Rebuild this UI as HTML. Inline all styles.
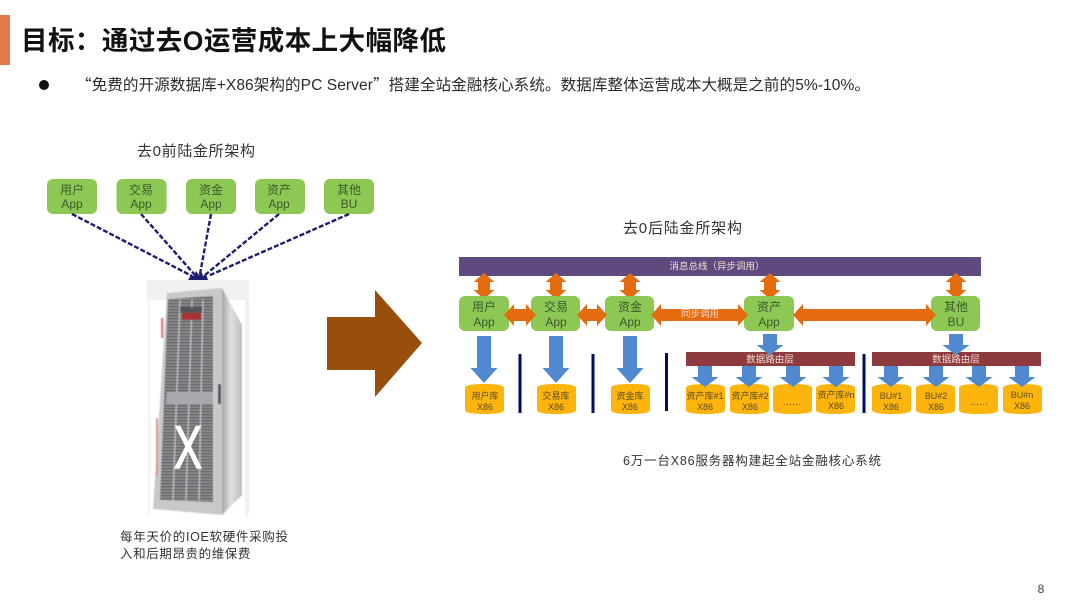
<!DOCTYPE html>
<html lang="zh"><head><meta charset="utf-8"><style>
html,body{margin:0;padding:0;background:#fff}
svg{display:block}
text{font-family:"Liberation Sans","Noto Sans CJK SC",sans-serif}
.c{text-anchor:middle}
.g{font-size:12px;fill:#3d5a2c;text-anchor:middle}
.y{font-size:9px;fill:#5a4a20;text-anchor:middle}
.t{font-size:15px;fill:#333}
.w{font-size:9.5px;fill:#f3d9d0;text-anchor:middle}
.q{font-family:"Noto Sans CJK SC",sans-serif}
</style></head><body>
<svg xmlns="http://www.w3.org/2000/svg" width="1080" height="608" viewBox="0 0 1080 608">
<defs>
<filter id="bl" x="-5%" y="-5%" width="110%" height="110%"><feGaussianBlur stdDeviation="0.4"/></filter>
<pattern id="st" width="10" height="3" patternUnits="userSpaceOnUse"><rect width="10" height="3" fill="#939396"/><rect width="10" height="1.3" fill="#535458"/></pattern>
<linearGradient id="sd" x1="0" x2="1" y1="0" y2="0"><stop offset="0" stop-color="#a6a7aa"/><stop offset=".45" stop-color="#dfe0e2"/><stop offset="1" stop-color="#bbbcbf"/></linearGradient>
<polygon id="big" points="-7,0 7,0 7,32 13.5,32 0,47 -13.5,32 -7,32" fill="#5189d0"/>
<polygon id="sm" points="-7,0 7,0 7,11 13.5,11 0,21 -13.5,11 -7,11" fill="#5189d0"/>
<polygon id="v" points="0,-13 10.5,-4 6,-4 6,4 10.5,4 0,13 -10.5,4 -6,4 -6,-4 -10.5,-4" fill="#e46c0f"/>
<path id="cy" d="M0 4C0 1 8 0 19.5 0S39 1 39 4V26C39 29 31 30 19.5 30S0 29 0 26Z" fill="#fdb50e"/>
</defs>
<rect width="1080" height="608" fill="#fff"/>

<!-- Header -->
<rect x="0" y="15" width="10" height="50" fill="#e27a4b"/>
<text x="21" y="50" font-size="26.5" font-weight="700" fill="#111" textLength="425" lengthAdjust="spacing">目标&#xFF1A;通过去O运营成本上大幅降低</text>
<circle cx="44" cy="85" r="5" fill="#111"/>
<text x="76" y="90" font-size="15.6" fill="#2b2b2b" textLength="794" lengthAdjust="spacing"><tspan class="q">“</tspan>免费的开源数据库+X86架构的PC Server<tspan class="q">”</tspan>搭建全站金融核心系统。数据库整体运营成本大概是之前的5%-10%。</text>

<!-- Left -->
<text x="137" y="156" class="t" textLength="118" lengthAdjust="spacing">去0前陆金所架构</text>
<g fill="#8cc853">
<rect x="47" y="179" width="50" height="35" rx="6"/>
<rect x="116.500" y="179" width="50" height="35" rx="6"/>
<rect x="186" y="179" width="50" height="35" rx="6"/>
<rect x="255" y="179" width="50" height="35" rx="6"/>
<rect x="324" y="179" width="50" height="35" rx="6"/>
</g>
<text x="72" y="194" class="g">用户</text><text x="72" y="208" class="g">App</text>
<text x="141" y="194" class="g">交易</text><text x="141" y="208" class="g">App</text>
<text x="211" y="194" class="g">资金</text><text x="211" y="208" class="g">App</text>
<text x="279" y="194" class="g">资产</text><text x="279" y="208" class="g">App</text>
<text x="349" y="194" class="g">其他</text><text x="349" y="208" class="g">BU</text>
<g stroke="#1d1f6e" stroke-width="2.4" stroke-dasharray="5 2" fill="none">
<line x1="72" y1="214" x2="192" y2="276"/>
<line x1="141" y1="214" x2="195" y2="275"/>
<line x1="211" y1="214" x2="200" y2="274"/>
<line x1="279" y1="214" x2="205" y2="275"/>
<line x1="349" y1="214" x2="208" y2="276"/>
</g>
<polygon points="188,280 208,280 206,274 203,276 201,270 199,275 196,271 194,276 191,275" fill="#1d1f6e"/>

<!-- Server -->
<rect x="147" y="280" width="102" height="20" fill="#f1f1f1"/>
<rect x="147" y="300" width="4" height="215" fill="#f8f6f6"/>
<rect x="245" y="300" width="4" height="215" fill="#f6efef"/>
<g filter="url(#bl)">
<polygon points="222,288 242,325 242,495 222,515" fill="url(#sd)"/>
<polygon points="167,293 222,288 222,515 153,509" fill="#c8c9cb"/>
<polygon points="168,299 213,296 213,502 160,500" fill="url(#st)"/>
<g stroke="#bcbdc0" stroke-width="1.4">
<line x1="180" y1="300" x2="173" y2="500"/>
<line x1="192" y1="300" x2="186" y2="500"/>
<line x1="203" y1="300" x2="199" y2="500"/>
</g>
<rect x="182" y="313" width="19" height="7" fill="#a8302e"/>
<rect x="180" y="307" width="22" height="6" fill="#55565a"/>
<polygon points="167,392 213,392 213,404 166,404" fill="#a8a9ac"/>
<rect x="218" y="384" width="3" height="20" fill="#55565a"/>
<rect x="161" y="318" width="2.500" height="20" fill="#d88a8a"/>
<rect x="156" y="418" width="2" height="58" fill="#dc9a96"/>
</g>
<text transform="translate(188 468) scale(.7 1)" class="c" font-size="60" fill="#fff" stroke="#fff" stroke-width="1.5">X</text>
<text x="120" y="541" font-size="12.500" fill="#333" textLength="168" lengthAdjust="spacing">每年天价的IOE软硬件采购投</text>
<text x="120" y="558" font-size="12.500" fill="#333" letter-spacing=".6">入和后期昂贵的维保费</text>

<!-- Big arrow -->
<polygon points="327,317 375,317 375,290 422,343 375,397 375,370 327,370" fill="#974f0b"/>

<!-- Right -->
<text x="623" y="233" class="t" textLength="119" lengthAdjust="spacing">去0后陆金所架构</text>
<rect x="459" y="257" width="522" height="19" fill="#5f4a80"/>
<text x="717" y="269.500" class="w">消息总线&#xFF08;异步调用&#xFF09;</text>

<use href="#v" x="484" y="286"/><use href="#v" x="556" y="286"/><use href="#v" x="630" y="286"/><use href="#v" x="770" y="286"/><use href="#v" x="956" y="286"/>

<g fill="#8cc853">
<rect x="459" y="296" width="50" height="35" rx="6"/>
<rect x="531" y="296" width="49" height="35" rx="6"/>
<rect x="605" y="296" width="49" height="35" rx="6"/>
<rect x="744" y="296" width="50" height="35" rx="6"/>
<rect x="931" y="296" width="49" height="35" rx="6"/>
</g>
<text x="484" y="311" class="g">用户</text><text x="484" y="326" class="g">App</text>
<text x="556" y="311" class="g">交易</text><text x="556" y="326" class="g">App</text>
<text x="630" y="311" class="g">资金</text><text x="630" y="326" class="g">App</text>
<text x="769" y="311" class="g">资产</text><text x="769" y="326" class="g">App</text>
<text x="956" y="311" class="g">其他</text><text x="956" y="326" class="g">BU</text>

<g fill="#e46c0f">
<polygon points="504,315 514,304 514,309 526,309 526,304 536,315 526,326 526,321 514,321 514,326"/>
<polygon points="577,315 587,304 587,309 597,309 597,304 607,315 597,326 597,321 587,321 587,326"/>
<polygon points="651,315 661,304 661,309 738,309 738,304 748,315 738,326 738,321 661,321 661,326"/>
<polygon points="793,315 803,304 803,309 926,309 926,304 936,315 926,326 926,321 803,321 803,326"/>
</g>
<text x="700" y="317" class="w">同步调用</text>

<use href="#big" x="484" y="336"/><use href="#big" x="556" y="336"/><use href="#big" x="630" y="336"/>

<rect x="686" y="352" width="169" height="14" fill="#8e3b3f"/>
<rect x="872" y="352" width="169" height="14" fill="#8e3b3f"/>
<use href="#sm" x="770" y="334"/><use href="#sm" x="956" y="334"/>
<text x="770" y="362.500" class="w">数据路由层</text>
<text x="956" y="362.500" class="w">数据路由层</text>

<g fill="#000b5e">
<rect x="518.500" y="354" width="3" height="59"/>
<rect x="591.500" y="354" width="3" height="59"/>
<rect x="665" y="353" width="3" height="58"/>
<rect x="862.500" y="354" width="3" height="59"/>
</g>

<use href="#cy" x="465" y="384"/><use href="#cy" x="537" y="384"/><use href="#cy" x="611" y="384"/>
<use href="#cy" x="686" y="384"/><use href="#cy" x="730" y="384"/><use href="#cy" x="773" y="384"/><use href="#cy" x="816" y="384"/>
<use href="#cy" x="872" y="384"/><use href="#cy" x="916" y="384"/><use href="#cy" x="959" y="384"/><use href="#cy" x="1003" y="384"/>

<use href="#sm" x="705" y="366"/><use href="#sm" x="749" y="366"/><use href="#sm" x="793" y="366"/><use href="#sm" x="836" y="366"/>
<use href="#sm" x="891" y="366"/><use href="#sm" x="936" y="366"/><use href="#sm" x="979" y="366"/><use href="#sm" x="1022" y="366"/>

<text x="485" y="399" class="y">用户库</text><text x="485" y="410" class="y">X86</text>
<text x="556" y="399" class="y">交易库</text><text x="556" y="410" class="y">X86</text>
<text x="630" y="399" class="y">资金库</text><text x="630" y="410" class="y">X86</text>
<text x="705" y="399" class="y">资产库#1</text><text x="705" y="410" class="y">X86</text>
<text x="750" y="399" class="y">资产库#2</text><text x="750" y="410" class="y">X86</text>
<text x="792" y="405" class="y">……</text>
<text x="836" y="398" class="y">资产库#n</text><text x="836" y="409" class="y">X86</text>
<text x="891" y="399" class="y">BU#1</text><text x="891" y="410" class="y">X86</text>
<text x="936" y="399" class="y">BU#2</text><text x="936" y="410" class="y">X86</text>
<text x="979" y="405" class="y">……</text>
<text x="1022" y="398" class="y">BU#n</text><text x="1022" y="409" class="y">X86</text>

<text x="623" y="465" font-size="12.500" fill="#333" textLength="258" lengthAdjust="spacing">6万一台X86服务器构建起全站金融核心系统</text>
<text x="1041" y="593" class="c" font-size="12" fill="#444">8</text>
</svg>
</body></html>
